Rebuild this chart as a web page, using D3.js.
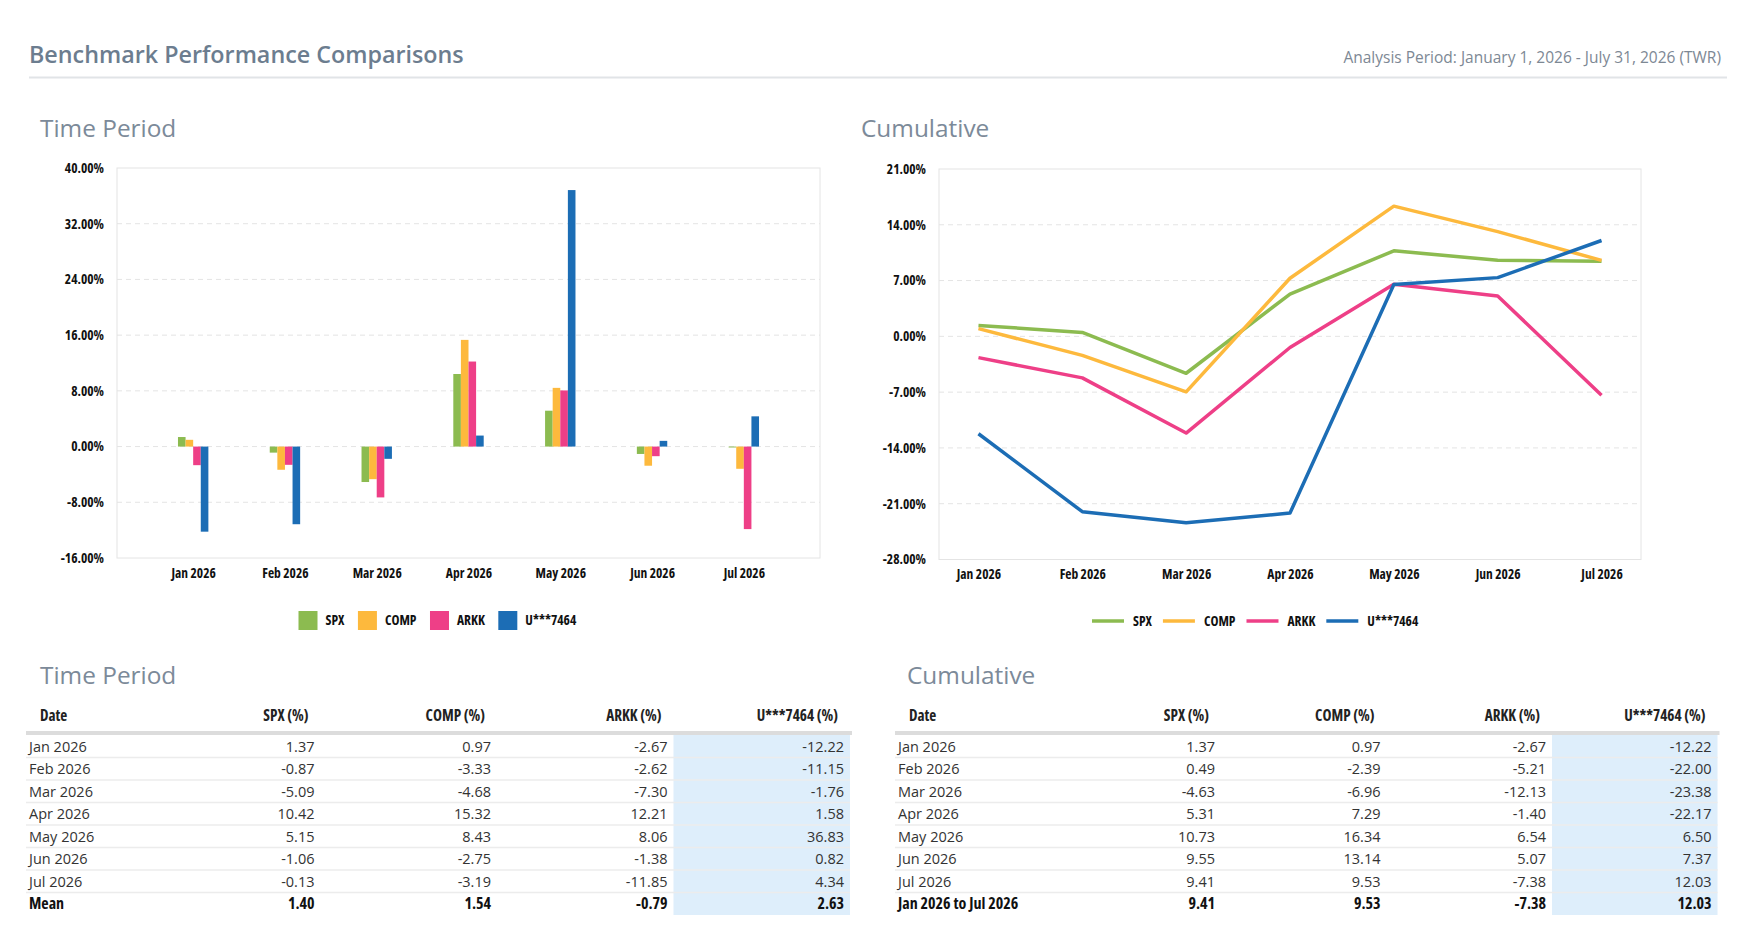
<!DOCTYPE html>
<html>
<head>
<meta charset="utf-8">
<script src="https://cdn.jsdelivr.net/npm/d3@7"></script>
<style>
  body { margin: 0; background: #fff; font-family: 'Open Sans', sans-serif; }
  .axis text { font-family: 'Open Sans', sans-serif; font-weight: 700; font-size: 13.5px; font-stretch: 85%; fill: #111; }
  .legend text { font-family: 'Open Sans', sans-serif; font-weight: 700; font-size: 13.5px; font-stretch: 85%; fill: #111; }
  .thead text { font-weight: 700; font-size: 15.2px; font-stretch: 87.5%; fill: #222; }
  .tbody text { font-size: 14.5px; fill: #333; }
  .tbody text.total { font-weight: 700; font-size: 16px; font-stretch: 87.5%; fill: #111; }
</style>
</head>
<body>
<svg id="canvas" width="1749" height="950"></svg>
<script>
const months = ['Jan 2026', 'Feb 2026', 'Mar 2026', 'Apr 2026', 'May 2026', 'Jun 2026', 'Jul 2026'];
const seriesNames = ['SPX', 'COMP', 'ARKK', 'U***7464'];
const seriesColours = ['#8cbb50', '#fdb93d', '#ee3f87', '#1c6db5'];

// monthly returns (%)
const spxPeriod = [1.37, -0.87, -5.09, 10.42, 5.15, -1.06, -0.13];
const compPeriod = [0.97, -3.33, -4.68, 15.32, 8.43, -2.75, -3.19];
const arkkPeriod = [-2.67, -2.62, -7.30, 12.21, 8.06, -1.38, -11.85];
const acctPeriod = [-12.22, -11.15, -1.76, 1.58, 36.83, 0.82, 4.34];
const periodSummary = ['Mean', 1.40, 1.54, -0.79, 2.63];

// cumulative returns (%)
const spxCum = [1.37, 0.49, -4.63, 5.31, 10.73, 9.55, 9.41];
const compCum = [0.97, -2.39, -6.96, 7.29, 16.34, 13.14, 9.53];
const arkkCum = [-2.67, -5.21, -12.13, -1.40, 6.54, 5.07, -7.38];
const acctCum = [-12.22, -22.00, -23.38, -22.17, 6.50, 7.37, 12.03];
const cumSummary = ['Jan 2026 to Jul 2026', 9.41, 9.53, -7.38, 12.03];

const periodTicks = [-16, -8, 0, 8, 16, 24, 32, 40];
const cumTicks = [-28, -21, -14, -7, 0, 7, 14, 21];

const periodSeries = [spxPeriod, compPeriod, arkkPeriod, acctPeriod];
const cumSeries = [spxCum, compCum, arkkCum, acctCum];

const svg = d3.select('#canvas');
const locale = d3.formatLocale({ decimal: '.', thousands: ',', grouping: [3], currency: ['$', ''], minus: '-' });
const numFormat = locale.format('.2f');
const pctFormat = d => numFormat(d) + '%';

// ---- page header
svg.append('text')
    .attr('x', 29).attr('y', 63)
    .style('font-size', '23.3px').style('font-weight', 600)
    .style('fill', '#6c7d8f')
    .text('Benchmark Performance Comparisons');

svg.append('text')
    .attr('x', 1721).attr('y', 63)
    .attr('text-anchor', 'end')
    .style('font-size', '15.5px')
    .style('fill', '#7d8894')
    .text('Analysis Period: January 1, 2026 - July 31, 2026 (TWR)');

svg.append('line')
    .attr('x1', 29).attr('x2', 1727).attr('y1', 77.5).attr('y2', 77.5)
    .attr('stroke', '#e1e4e7').attr('stroke-width', 2);

const sectionTitle = (x, y, label) => svg.append('text')
    .attr('x', x).attr('y', y)
    .style('font-size', '24.4px')
    .style('fill', '#7c8a99')
    .text(label);

sectionTitle(40, 137, 'Time Period');
sectionTitle(861, 137, 'Cumulative');
sectionTitle(40, 684, 'Time Period');
sectionTitle(907, 684, 'Cumulative');

// ---- shared frame (border, grid, axes)
const drawFrame = (g, x, y, ticks) => {
    const [x0, x1] = x.range();
    const [y0, y1] = y.range();
    g.append('rect')
        .attr('x', x0).attr('y', y1)
        .attr('width', x1 - x0).attr('height', y0 - y1)
        .attr('fill', 'none').attr('stroke', '#e4e4e4');

    g.append('g').selectAll('line')
        .data(ticks.slice(1, -1))
        .join('line')
            .attr('x1', x0).attr('x2', x1)
            .attr('y1', d => y(d)).attr('y2', d => y(d))
            .attr('stroke', '#e4e4e4')
            .attr('stroke-dasharray', '5,4');

    const yAxis = g.append('g')
        .attr('class', 'axis')
        .attr('transform', `translate(${x0 - 13},0)`)
        .call(d3.axisLeft(y).tickValues(ticks).tickSize(0).tickPadding(0).tickFormat(pctFormat));
    yAxis.select('.domain').remove();

    const xAxis = g.append('g')
        .attr('class', 'axis')
        .attr('transform', `translate(0,${y0 + 10})`)
        .call(d3.axisBottom(x).tickSize(0).tickPadding(0));
    xAxis.select('.domain').remove();
};

// ---- Time Period bar chart
const barGraph = svg.append('g');
const xBar = d3.scalePoint().domain(months).range([117, 820]).padding(0.83);
const yBar = d3.scaleLinear().domain([-16, 40]).range([558, 168]);
const barWidth = 7.6;
const xInner = d3.scaleBand().domain(seriesNames).range([-barWidth * 2, barWidth * 2]);

drawFrame(barGraph, xBar, yBar, periodTicks);

const colour = d3.scaleOrdinal(seriesNames, seriesColours);

const barData = [];
periodSeries.forEach((values, s) => {
    values.forEach((v, i) => barData.push({ series: seriesNames[s], month: months[i], value: v }));
});

barGraph.append('g').selectAll('rect')
    .data(barData)
    .join('rect')
        .attr('x', d => xBar(d.month) + xInner(d.series))
        .attr('width', xInner.bandwidth())
        .attr('y', d => yBar(Math.max(0, d.value)))
        .attr('height', d => Math.abs(yBar(d.value) - yBar(0)))
        .attr('fill', d => colour(d.series));

// bar legend
const barLegend = svg.append('g').attr('class', 'legend');
let lx = 298.5;
seriesNames.forEach(name => {
    barLegend.append('rect')
        .attr('x', lx).attr('y', 611)
        .attr('width', 19).attr('height', 19)
        .attr('fill', colour(name));
    const t = barLegend.append('text')
        .attr('x', lx + 27).attr('y', 625)
        .text(name);
    lx += 27 + t.node().getComputedTextLength() + 13.5;
});

// ---- Cumulative line chart
const lineGraph = svg.append('g');
const xLine = d3.scalePoint().domain(months).range([939, 1641]).padding(0.38);
const yLine = d3.scaleLinear().domain([-28, 21]).range([559.5, 169]);

drawFrame(lineGraph, xLine, yLine, cumTicks);

const line = d3.line()
    .x((d, i) => xLine(months[i]))
    .y(d => yLine(d));

lineGraph.append('g').selectAll('path')
    .data(cumSeries)
    .join('path')
        .attr('d', line)
        .attr('fill', 'none')
        .attr('stroke', (d, i) => seriesColours[i])
        .attr('stroke-width', 3.5)
        .attr('stroke-linejoin', 'round');

const lineLegend = svg.append('g').attr('class', 'legend');
let llx = 1092;
seriesNames.forEach(name => {
    lineLegend.append('line')
        .attr('x1', llx).attr('x2', llx + 32)
        .attr('y1', 621).attr('y2', 621)
        .attr('stroke', colour(name)).attr('stroke-width', 3.5);
    const t = lineLegend.append('text')
        .attr('x', llx + 41).attr('y', 625.5)
        .text(name);
    llx += 41 + t.node().getComputedTextLength() + 11;
});

// ---- tables
const drawTable = (x0, dateWidth, colWidth, series, summary) => {
    const g = svg.append('g');
    const right = x0 + dateWidth + colWidth * 4;
    const colRight = i => x0 + dateWidth + colWidth * (i + 1) - 6;
    const rowH = 22.5;
    const top = 735;
    const nRows = months.length + 1;

    // highlight column
    g.append('rect')
        .attr('x', x0 + dateWidth + colWidth * 3).attr('y', top)
        .attr('width', colWidth).attr('height', rowH * nRows)
        .attr('fill', '#deeefb');

    // header
    const head = g.append('g').attr('class', 'thead');
    head.append('text').attr('x', x0 + 14).attr('y', 721).text('Date');
    seriesNames.forEach((name, i) => {
        head.append('text')
            .attr('x', colRight(i) - 6).attr('y', 721)
            .attr('text-anchor', 'end')
            .text(`${name} (%)`);
    });
    g.append('rect')
        .attr('x', x0).attr('y', 731)
        .attr('width', right - x0 + 2).attr('height', 4)
        .attr('fill', '#dcdcdc');

    // row separators
    g.append('g').selectAll('line')
        .data(d3.range(1, nRows))
        .join('line')
            .attr('x1', x0).attr('x2', right)
            .attr('y1', i => top + rowH * i).attr('y2', i => top + rowH * i)
            .attr('stroke', '#ececec').attr('stroke-width', 1.5);

    const rows = months.map((m, r) => [m, ...series.map(s => s[r])]);
    rows.push(summary);

    const body = g.append('g').attr('class', 'tbody');
    rows.forEach((row, r) => {
        const y = top + rowH * r + 16.5;
        const cls = r === rows.length - 1 ? 'total' : null;
        body.append('text')
            .attr('class', cls)
            .attr('x', x0 + 3).attr('y', y)
            .text(row[0]);
        row.slice(1).forEach((v, i) => {
            body.append('text')
                .attr('class', cls)
                .attr('x', colRight(i)).attr('y', y)
                .attr('text-anchor', 'end')
                .text(numFormat(v));
        });
    });
};

drawTable(26, 118, 176.5, periodSeries, periodSummary);
drawTable(895, 160.5, 165.5, cumSeries, cumSummary);
</script>
</body>
</html>
